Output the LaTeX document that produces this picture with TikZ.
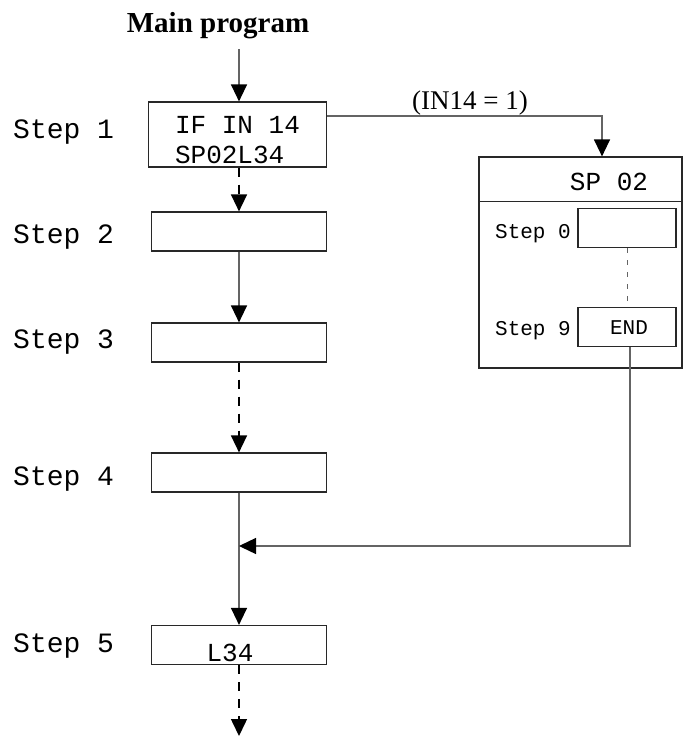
\documentclass[tikz,border=0pt]{standalone}
\usepackage{fontspec}
\setmainfont{Liberation Serif}
\setmonofont{Liberation Mono}
\usetikzlibrary{arrows.meta}
\definecolor{LineGray}{RGB}{100,100,100}
\definecolor{BoxGray}{RGB}{40,40,40}

\begin{document}
\begin{tikzpicture}[x=1pt,y=-1pt,>={Triangle[length=17pt,width=16pt,color=black]},
    stepbox/.style={draw=BoxGray,line width=1.2pt,minimum width=175pt,minimum height=39pt,inner sep=0pt},
    subbox/.style={draw=BoxGray,line width=1.2pt,minimum width=98pt,minimum height=39pt,inner sep=0pt},
    steplabel/.style={anchor=base west,inner sep=0pt,font=\ttfamily\fontsize{28}{30}\selectfont},
    boxtext/.style={inner sep=0pt,font=\ttfamily\fontsize{26}{30}\selectfont},
    smalltext/.style={inner sep=0pt,font=\ttfamily\fontsize{21}{24}\selectfont},
    conn/.style={draw=LineGray,line width=1.3pt},
    dashconn/.style={draw=black,line width=1.5pt,dash pattern=on 9pt off 8pt}]
      \useasboundingbox (0,0) rectangle (683,737);
      % main program column
      \node[anchor=base,inner sep=0pt,font=\bfseries\fontsize{29}{32}\selectfont] (title) at (218,32) {Main program};
      \coordinate (start) at (239,49);
      \node[stepbox,minimum width=178pt,minimum height=65pt] (s1) at (237.5,134.5) {};
      \node[boxtext,align=left] (s1txt) at (237.5,140) {IF IN 14\\SP02L34};
      \node[stepbox] (s2) at (239,231.5) {};
      \node[stepbox] (s3) at (239,342.5) {};
      \node[stepbox] (s4) at (239,472.5) {};
      \node[stepbox] (s5) at (239,645) {};
      \node[boxtext,anchor=base] (s5txt) at (230,661) {L34};
      \coordinate (join) at (239,546);
      \coordinate (bottom) at (239,736);
      \node[steplabel] (l1) at (13,138) {Step 1};
      \node[steplabel] (l2) at (13,243) {Step 2};
      \node[steplabel] (l3) at (13,348) {Step 3};
      \node[steplabel] (l4) at (13,485) {Step 4};
      \node[steplabel] (l5) at (13,652) {Step 5};
      % subroutine SP 02
      \node[draw=BoxGray,line width=1.2pt,minimum width=203pt,minimum height=211pt,inner sep=0pt] (sp) at (580.5,262.5) {};
      \node[boxtext,anchor=base] (sptitle) at (609,190) {SP 02};
      \node[subbox] (sp0) at (627,228) {};
      \node[subbox] (sp9) at (627,327) {};
      \node[smalltext,anchor=base] (end) at (629,334) {END};
      \node[smalltext,anchor=base east] (l0) at (571,238) {Step 0};
      \node[smalltext,anchor=base east] (l9) at (571,335) {Step 9};
      \node[inner sep=0pt,anchor=base,font=\fontsize{27}{30}\selectfont] (cond) at (470,109) {(IN14 = 1)};
      \draw[BoxGray,line width=1.2pt] ([yshift=-45pt]sp.north west) -- ([yshift=-45pt]sp.north east);
      % connectors
      \draw[conn,->] (start) -- (start |- s1.north);
      \draw[dashconn,->] (s2 |- s1.south) -- (s2.north);
      \draw[conn,->] (s2) -- (s3);
      \draw[dashconn,->] (s3) -- (s4);
      \draw[conn,->] (s4) -- (s5);
      \draw[dashconn,->] (s5) -- (bottom);
      \draw[conn,->] ([yshift=-14.5pt]s1.north east) -| ([xshift=21.5pt]sp.north);
      \draw[conn,dash pattern=on 5pt off 7pt,line width=1pt] (sp0) -- (sp9);
      \draw[conn,->] ([xshift=3pt]sp9.south) |- (join);
\end{tikzpicture}
\end{document}
